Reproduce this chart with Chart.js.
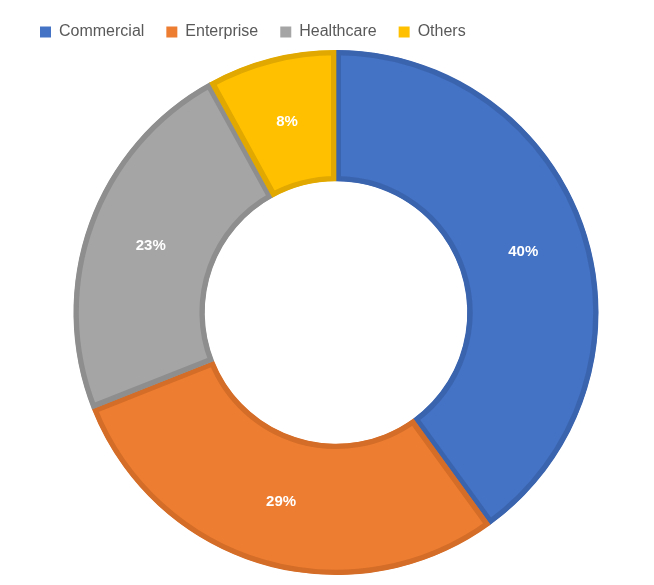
<!DOCTYPE html>
<html><head><meta charset="utf-8">
<script src="https://cdn.jsdelivr.net/npm/chart.js@4"></script>
<style>html,body{margin:0;padding:0;background:#fff}#w{width:654px;height:585px}</style>
</head><body><div id="w"><canvas id="c"></canvas></div>
<script>
const categories=["Commercial","Enterprise","Healthcare","Others"];
const values=[40,29,23,8];
const colors=["#4472C4","#ED7D31","#A5A5A5","#FFC000"];
const borders=["#3B64AE","#D46D28","#8E8E8E","#E0A800"];
const labelPlugin={id:'lbl',afterDatasetsDraw(chart){
  const ctx=chart.ctx;const meta=chart.getDatasetMeta(0);
  ctx.save();ctx.fillStyle='#fff';ctx.font='bold 15px "Liberation Sans", Arial';ctx.textAlign='center';ctx.textBaseline='middle';
  meta.data.forEach((a,i)=>{const p=a.tooltipPosition();ctx.fillText(values[i]+'%',p.x,p.y);});
  ctx.restore();}};
new Chart(document.getElementById('c'),{type:'doughnut',
 data:{labels:categories,datasets:[{data:values,backgroundColor:colors,borderColor:borders,borderWidth:5,borderAlign:'inner'}]},
 plugins:[labelPlugin],
 options:{responsive:true,maintainAspectRatio:false,animation:false,cutout:'50%',
  layout:{padding:{left:18,right:-42,top:2,bottom:10}},
  plugins:{tooltip:{enabled:false},
   legend:{position:'top',align:'start',labels:{boxWidth:11,boxHeight:11,padding:22,color:'#595959',font:{size:16,family:'"Liberation Sans", Arial'},
    generateLabels(chart){return categories.map((t,i)=>({text:t,fillStyle:colors[i],strokeStyle:colors[i],lineWidth:0,fontColor:'#595959',index:i,hidden:false}));}}}}}});
</script></body></html>
